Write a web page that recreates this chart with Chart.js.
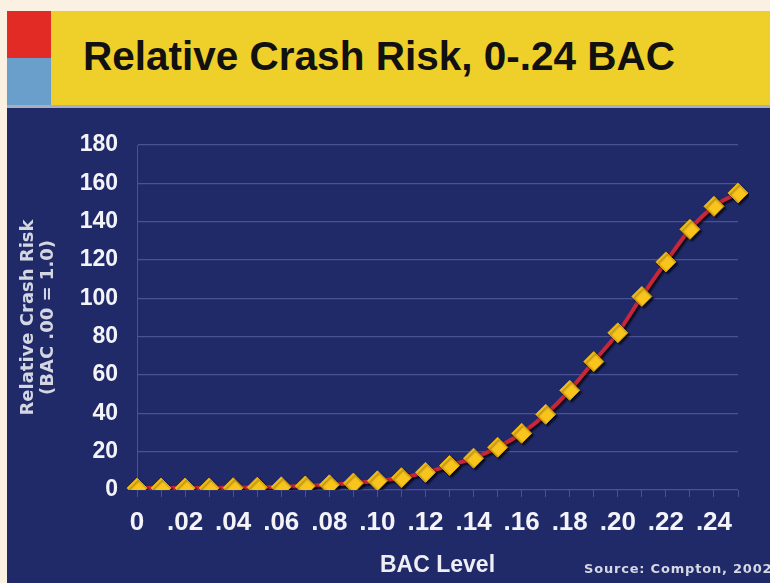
<!DOCTYPE html>
<html>
<head>
<meta charset="utf-8">
<script src="https://cdn.jsdelivr.net/npm/chart.js@4"></script>
<style>
  body { margin: 0; width: 770px; height: 583px; overflow: hidden; background: #fbf1e3; position: relative; }
  #red { position: absolute; left: 7px; top: 11px; width: 44px; height: 47px; background: #e12b24; }
  #blue { position: absolute; left: 7px; top: 58px; width: 44px; height: 47px; background: #6a9fcb; }
  #banner { position: absolute; left: 51px; top: 11px; width: 719px; height: 94px; background: #efcf2a; }
  #rule { position: absolute; left: 7px; top: 105px; width: 763px; height: 3px; background: #a9adc2; }
  #title { position: absolute; left: 83px; top: 33px; margin: 0; font: bold 40.5px "Liberation Sans", Arial, sans-serif; color: #111; white-space: nowrap; }
  #chartBox { position: absolute; left: 7px; top: 108px; width: 763px; height: 475px; background: #212a69; }
  #source { position: absolute; left: 584px; top: 561px; font: bold 13px "DejaVu Sans", sans-serif; letter-spacing: 0.8px; color: #d6d8e4; white-space: nowrap; }
</style>
</head>
<body>
<div id="red"></div>
<div id="blue"></div>
<div id="banner"></div>
<div id="rule"></div>
<h1 id="title">Relative Crash Risk, 0-.24 BAC</h1>
<div id="chartBox"><canvas id="riskChart" width="763" height="475"></canvas></div>
<div id="source">Source: Compton, 2002</div>

<script>
// BAC levels .00 - .25 (labels shown every .02 up to .24)
const bacLevels = ["0", ".01", ".02", ".03", ".04", ".05", ".06", ".07", ".08", ".09",
    ".10", ".11", ".12", ".13", ".14", ".15", ".16", ".17", ".18", ".19",
    ".20", ".21", ".22", ".23", ".24", ".25"];

// relative crash risk (BAC .00 = 1.0)
const relativeRisk = [1.0, 1.03, 1.03, 1.06, 1.18, 1.4, 1.65, 2.1, 2.7, 3.6,
    4.8, 6.4, 9.2, 12.8, 16.6, 22.3, 29.6, 39.5, 52, 67,
    82, 101, 119, 136, 148, 155];

const yTicks = [0, 20, 40, 60, 80, 100, 120, 140, 160, 180];

const gridColor = "rgba(120, 132, 205, 0.45)";

// soft drop shadow under the line and diamonds
const shadowPlugin = {
    id: "markerShadow",
    beforeDatasetsDraw(chart) {
        const ctx = chart.ctx;
        ctx.save();
        ctx.shadowColor = "rgba(0, 0, 0, 0.7)";
        ctx.shadowOffsetX = 2;
        ctx.shadowOffsetY = 2;
        ctx.shadowBlur = 2;
    },
    afterDatasetsDraw(chart) {
        chart.ctx.restore();
    }
};

new Chart(document.getElementById("riskChart"), {
    type: "line",
    data: {
        labels: bacLevels,
        datasets: [{
            label: "Relative Crash Risk",
            data: relativeRisk,
            borderColor: "#c8263a",
            borderWidth: 4,
            cubicInterpolationMode: "monotone",
            pointStyle: "rectRot",
            pointRadius: 10,
            pointBackgroundColor: "#f9c41c",
            pointBorderColor: "#e3a90c",
            pointBorderWidth: 1
        }]
    },
    options: {
        responsive: false,
        animation: false,
        layout: { padding: { left: 0, top: 37, right: 32, bottom: 0 } },
        plugins: {
            legend: { display: false },
            tooltip: { enabled: false }
        },
        scales: {
            x: {
                offset: false,
                afterFit: (scale) => { scale.height = 93; },
                grid: {
                    drawOnChartArea: false,
                    drawTicks: true,
                    tickLength: 7,
                    color: gridColor
                },
                border: { display: false },
                ticks: {
                    autoSkip: false,
                    maxRotation: 0,
                    padding: 10,
                    color: "#f4f4f8",
                    font: { family: "Liberation Sans", weight: "bold", size: 26 },
                    callback: (value, index) => (index % 2 === 0 && index <= 24) ? bacLevels[index] : ""
                },
                title: {
                    display: true,
                    text: "BAC Level",
                    color: "#eeeef4",
                    padding: { top: 0, bottom: 4 },
                    font: { family: "Liberation Sans", weight: "bold", size: 23, lineHeight: 1.2 }
                }
            },
            y: {
                min: 0,
                max: 180,
                afterFit: (scale) => { scale.width = 130; },
                afterBuildTicks: (scale) => { scale.ticks = yTicks.map(v => ({ value: v })); },
                grid: { color: gridColor, drawTicks: false, lineWidth: 1.2 },
                border: { color: gridColor },
                ticks: {
                    padding: 19,
                    color: "#f4f4f8",
                    font: { family: "Liberation Sans", weight: "bold", size: 23 }
                },
                title: {
                    display: true,
                    text: ["Relative Crash Risk", "(BAC .00 = 1.0)"],
                    color: "#d4d6e2",
                    padding: { top: 10.5, bottom: 0 },
                    font: { family: "DejaVu Sans", weight: "bold", size: 18, lineHeight: 1.15 }
                }
            }
        }
    },
    plugins: [shadowPlugin]
});
</script>
</body>
</html>
